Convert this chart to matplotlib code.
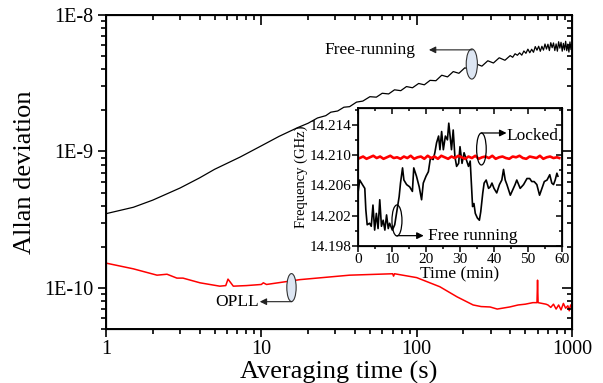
import numpy as np
import matplotlib
matplotlib.use("Agg")
import matplotlib.pyplot as plt
from matplotlib.patches import Ellipse
from matplotlib.ticker import FixedLocator, LogLocator, NullFormatter, MultipleLocator

plt.rcParams['font.family'] = ['Liberation Serif', 'DejaVu Serif']

# main plot: Allan deviation, free-running
tau_free = [1, 1.5, 2, 3, 4, 5, 7.3, 10, 13, 17, 20, 23, 26, 28, 31, 34, 37, 41, 45, 50,
            55, 60, 66, 72, 79, 86, 94, 103, 112, 122, 133, 145, 158, 172, 187, 204, 222,
            242, 263, 287, 312, 340, 370, 400, 415, 430, 445, 460, 475, 490, 505, 520, 535,
            550, 565, 580, 595, 610, 625, 640, 655, 670, 685, 700, 715, 730, 745, 760, 775,
            790, 805, 820, 835, 850, 865, 880, 895, 910, 925, 940, 955, 970, 985, 1000]
adev_free = [3.50e-10, 3.90e-10, 4.40e-10, 5.40e-10, 6.40e-10, 7.40e-10, 9.10e-10, 1.10e-9,
             1.29e-9, 1.49e-9, 1.61e-9, 1.76e-9, 1.83e-9, 1.94e-9, 1.98e-9, 2.11e-9, 2.13e-9,
             2.30e-9, 2.34e-9, 2.52e-9, 2.50e-9, 2.67e-9, 2.64e-9, 2.83e-9, 2.79e-9, 2.99e-9,
             2.93e-9, 3.15e-9, 3.08e-9, 3.32e-9, 3.30e-9, 3.62e-9, 3.52e-9, 3.85e-9, 3.74e-9,
             4.10e-9, 4.00e-9, 4.38e-9, 4.22e-9, 4.62e-9, 4.45e-9, 4.86e-9, 4.66e-9,
             5.04e-9, 4.90e-9, 5.20e-9, 5.07e-9, 5.28e-9, 5.08e-9, 5.45e-9, 5.24e-9, 5.62e-9,
             5.29e-9, 5.61e-9, 5.33e-9, 5.87e-9, 5.52e-9, 5.90e-9, 5.42e-9, 5.90e-9, 5.53e-9,
             6.13e-9, 5.63e-9, 6.11e-9, 5.49e-9, 6.27e-9, 5.76e-9, 6.24e-9, 5.49e-9, 6.14e-9,
             5.43e-9, 6.37e-9, 5.72e-9, 6.31e-9, 5.43e-9, 6.20e-9, 5.55e-9, 6.42e-9, 5.48e-9,
             6.12e-9, 5.35e-9, 6.35e-9, 5.58e-9, 6.05e-9]

# main plot: Allan deviation, OPLL locked
tau_opll = [1, 1.5, 2.13, 2.47, 2.86, 3.13, 4.03, 5.4, 5.9, 6.1, 6.6, 8, 10, 10.3, 10.8,
            17.7, 37, 70, 71, 72, 100, 141, 182, 231, 260, 297, 330, 397, 450, 500, 560,
            595, 600, 605, 680, 700, 730, 760, 790, 820, 850, 880, 910, 940, 960, 980, 1000]
adev_opll = [1.52e-10, 1.38e-10, 1.24e-10, 1.26e-10, 1.18e-10, 1.18e-10, 1.09e-10, 1.03e-10,
             1.04e-10, 1.16e-10, 1.03e-10, 1.04e-10, 1.06e-10, 1.09e-10, 1.06e-10, 1.15e-10,
             1.24e-10, 1.27e-10, 1.22e-10, 1.27e-10, 1.19e-10, 1.02e-10, 8.6e-11, 7.5e-11,
             7.3e-11, 7.25e-11, 7.0e-11, 7.25e-11, 7.5e-11, 7.6e-11, 7.8e-11, 7.8e-11,
             1.14e-10, 7.8e-11, 7.6e-11, 7.5e-11, 7.2e-11, 7.6e-11, 7.0e-11, 7.5e-11,
             6.9e-11, 7.7e-11, 7.1e-11, 7.4e-11, 6.8e-11, 7.5e-11, 7.2e-11]

# inset: frequency vs time
t_free = [0.0, 0.5, 1.3, 2.0, 2.3, 2.7, 3.4, 3.9, 4.4, 4.9, 5.4, 5.9, 6.4, 6.9, 7.4, 7.9,
          8.4, 8.9, 9.3, 10.1, 10.8, 11.5, 12.1, 12.5, 13.1, 13.5, 14.3, 15.2, 16.0, 16.4,
          17.2, 18.0, 18.7, 19.2, 20.0, 20.7, 21.3, 22.1, 22.6, 23.1, 23.7, 24.1, 24.6,
          25.1, 25.7, 26.3, 26.7, 27.0, 27.5, 28.0, 28.5, 29.0, 29.6, 30.0, 30.6, 31.2,
          32.0, 32.5, 33.0, 33.4, 33.7, 34.1, 34.5, 35.1, 35.7, 36.1, 36.7, 37.1, 37.7,
          38.4, 38.9, 39.4, 40.0, 40.8, 41.6, 42.3, 42.8, 43.3, 43.8, 44.8, 45.5, 46.2,
          46.7, 47.7, 48.7, 49.7, 50.5, 51.1, 51.8, 52.6, 53.4, 54.1, 54.8, 55.6, 56.4,
          57.0, 57.5, 58.0, 58.5, 58.8]
f_free = [14.2050, 14.2067, 14.2061, 14.2056, 14.2028, 14.2008, 14.2010, 14.2006, 14.2034,
          14.2001, 14.2023, 14.2003, 14.2041, 14.2006, 14.2014, 14.2001, 14.2021, 14.2003,
          14.2010, 14.2001, 14.2008, 14.2028, 14.2045, 14.2063, 14.2083, 14.2067, 14.2061,
          14.2058, 14.2052, 14.2083, 14.2072, 14.2058, 14.2041, 14.2063, 14.2072, 14.2078,
          14.2096, 14.2094, 14.2103, 14.2116, 14.2125, 14.2107, 14.2131, 14.2107, 14.2125,
          14.2120, 14.2142, 14.2129, 14.2107, 14.2133, 14.2098, 14.2085, 14.2089, 14.2111,
          14.2089, 14.2103, 14.2092, 14.2085, 14.2092, 14.2058, 14.2032, 14.2036, 14.2023,
          14.2017, 14.2014, 14.2025, 14.2050, 14.2063, 14.2067, 14.2056, 14.2058, 14.2063,
          14.2056, 14.2050, 14.2061, 14.2067, 14.2081, 14.2067, 14.2061, 14.2047, 14.2054,
          14.2061, 14.2067, 14.2056, 14.2061, 14.2069, 14.2069, 14.2065, 14.2065, 14.2061,
          14.2047, 14.2056, 14.2065, 14.2067, 14.2074, 14.2063, 14.2061, 14.2067, 14.2076,
          14.2072]
t_lock = [0.5, 1.5, 2.5, 3.5, 4.5, 5.5, 6.5, 7.5, 8.5, 9.5, 10.5, 11.5, 12.5, 13.5, 14.5,
          15.5, 16.5, 17.5, 18.5, 19.5, 20.5, 21.5, 22.5, 23.5, 24.5, 25.5, 26.5, 27.5, 28.5,
          29.5, 30.5, 31.5, 32.5, 33.5, 34.5, 35.5, 36.5, 37.5, 38.5, 39.5, 40.5, 41.5, 42.5,
          43.5, 44.5, 45.5, 46.5, 47.5, 48.5, 49.5, 50.5, 51.5, 52.5, 53.5, 54.5, 55.5, 56.5,
          57.5, 58.5, 59.2]
f_lock = [14.2096, 14.2098, 14.2095, 14.2097, 14.2099, 14.2096, 14.2098, 14.2095, 14.2097,
          14.2099, 14.2096, 14.2097, 14.2095, 14.2098, 14.2096, 14.2099, 14.2095, 14.2097,
          14.2098, 14.2095, 14.2099, 14.2096, 14.2098, 14.2095, 14.2099, 14.2097, 14.2095,
          14.2098, 14.2096, 14.2099, 14.2097, 14.2095, 14.2098, 14.2096, 14.2099, 14.2095,
          14.2097, 14.2098, 14.2096, 14.2099, 14.2095, 14.2097, 14.2098, 14.2096, 14.2095,
          14.2098, 14.2097, 14.2099, 14.2096, 14.2095, 14.2098, 14.2097, 14.2096, 14.2099,
          14.2095, 14.2097, 14.2098, 14.2096, 14.2097, 14.2096]


def mirror(a, logscale, xmaj, xmin, ymaj, ymin, tl_maj, tl_min, w):
    # Origin style: outer ticks on left/bottom, inner ticks on top/right
    r = a.twinx()
    t = a.twiny()
    if logscale:
        r.set_yscale("log")
        t.set_xscale("log")
    r.set_ylim(a.get_ylim())
    t.set_xlim(a.get_xlim())
    r.yaxis.set_major_locator(FixedLocator(ymaj))
    r.yaxis.set_minor_locator(ymin)
    t.xaxis.set_major_locator(FixedLocator(xmaj))
    t.xaxis.set_minor_locator(xmin)
    r.tick_params(which="both", direction="in", labelright=False, width=w)
    t.tick_params(which="both", direction="in", labeltop=False, width=w)
    for b in (r, t):
        b.tick_params(which="major", length=tl_maj)
        b.tick_params(which="minor", length=tl_min)
        b.yaxis.set_minor_formatter(NullFormatter())
        b.xaxis.set_minor_formatter(NullFormatter())


fig = plt.figure(figsize=(6.03, 3.83), dpi=100)
ax = fig.add_axes([0.1758, 0.141, 0.7728, 0.8198])

ax.loglog(tau_free, adev_free, color="black", lw=0.9)
ax.loglog(tau_opll, adev_opll, color="red", lw=1.1)
ax.set_xlim(1, 1000)
ax.set_ylim(5e-11, 1e-8)

ax.xaxis.set_major_locator(FixedLocator([1, 10, 100, 1000]))
ax.set_xticklabels(["1", "10", "100", "1000"])
ax.yaxis.set_major_locator(FixedLocator([1e-10, 1e-9, 1e-8]))
ax.set_yticklabels(["1E-10", "1E-9", "1E-8"])
ax.xaxis.set_minor_locator(LogLocator(base=10, subs=np.arange(2, 10)))
ax.yaxis.set_minor_locator(LogLocator(base=10, subs=np.arange(2, 10)))
ax.xaxis.set_minor_formatter(NullFormatter())
ax.yaxis.set_minor_formatter(NullFormatter())
ax.tick_params(which="both", direction="out", labelsize=14.5, width=1.2)
ax.tick_params(which="major", length=6)
ax.tick_params(which="minor", length=3.5)
ax.tick_params(axis="x", pad=2)
ax.tick_params(axis="y", pad=3)
for s in ax.spines.values():
    s.set_linewidth(1.4)
ax.set_xlabel("Averaging time (s)", fontsize=19, labelpad=1)
ax.set_ylabel("Allan deviation", fontsize=19, labelpad=6)
mirror(ax, True, [1, 10, 100, 1000], LogLocator(base=10, subs=np.arange(2, 10)),
       [1e-10, 1e-9, 1e-8], LogLocator(base=10, subs=np.arange(2, 10)), 7, 3.5, 1.2)

# annotations on main plot
ax.add_patch(Ellipse((0.785, 0.844), 0.024, 0.096, transform=ax.transAxes,
                     facecolor="#dde6f3", edgecolor="#333333", lw=0.8, zorder=5))
ax.annotate("", xy=(0.693, 0.889), xytext=(0.786, 0.889), xycoords="axes fraction",
            arrowprops=dict(arrowstyle="-|>", color="#222222", lw=0.8,
                            mutation_scale=10, shrinkA=0, shrinkB=0), zorder=5)
ax.text(0.665, 0.889, "Free-running", transform=ax.transAxes, ha="right", va="center",
        fontsize=12.5)

ax.add_patch(Ellipse((0.398, 0.132), 0.020, 0.089, transform=ax.transAxes,
                     facecolor="#dde6f3", edgecolor="#333333", lw=0.8, zorder=5))
ax.annotate("", xy=(0.330, 0.087), xytext=(0.399, 0.087), xycoords="axes fraction",
            arrowprops=dict(arrowstyle="-|>", color="#222222", lw=0.8,
                            mutation_scale=10, shrinkA=0, shrinkB=0), zorder=5)
ax.text(0.328, 0.087, "OPLL", transform=ax.transAxes, ha="right", va="center",
        fontsize=12.5)

# inset
ins = fig.add_axes([0.5937, 0.3577, 0.3383, 0.3603])
ins.plot(t_free, f_free, color="black", lw=1.2)
ins.plot(t_lock, f_lock, color="red", lw=1.9)
ins.set_xlim(0, 60)
ins.set_ylim(14.198, 14.2162)
ins.xaxis.set_major_locator(MultipleLocator(10))
ins.xaxis.set_minor_locator(MultipleLocator(5))
ins.yaxis.set_major_locator(FixedLocator([14.198, 14.202, 14.206, 14.210, 14.214]))
ins.yaxis.set_minor_locator(MultipleLocator(0.002))
ins.set_yticklabels(["14.198", "14.202", "14.206", "14.210", "14.214"])
ins.tick_params(which="both", direction="out", labelsize=11, width=1.1)
ins.tick_params(which="major", length=4, pad=1)
ins.tick_params(which="minor", length=2.5)
for s in ins.spines.values():
    s.set_linewidth(1.3)
ins.set_xlabel("Time (min)", fontsize=12.5, labelpad=0)
ins.set_ylabel("Frequency (GHz)", fontsize=10.5, labelpad=1)
mirror(ins, False, [0, 10, 20, 30, 40, 50, 60], MultipleLocator(5),
       [14.198, 14.202, 14.206, 14.210, 14.214], MultipleLocator(0.002), 4, 2.5, 1.1)

ins.add_patch(Ellipse((0.605, 0.703), 0.047, 0.232, transform=ins.transAxes,
                      facecolor="none", edgecolor="black", lw=0.9, zorder=5))
ins.annotate("", xy=(0.728, 0.819), xytext=(0.605, 0.819), xycoords="axes fraction",
             arrowprops=dict(arrowstyle="-|>", color="black", lw=0.9,
                             mutation_scale=10, shrinkA=0, shrinkB=0), zorder=5)
ins.text(0.73, 0.80, "Locked", transform=ins.transAxes, ha="left", va="center",
         fontsize=12.5)

ins.add_patch(Ellipse((0.191, 0.185), 0.049, 0.225, transform=ins.transAxes,
                      facecolor="none", edgecolor="black", lw=0.9, zorder=5))
ins.annotate("", xy=(0.322, 0.075), xytext=(0.191, 0.075), xycoords="axes fraction",
             arrowprops=dict(arrowstyle="-|>", color="black", lw=0.9,
                             mutation_scale=10, shrinkA=0, shrinkB=0), zorder=5)
ins.text(0.343, 0.075, "Free running", transform=ins.transAxes, ha="left", va="center",
         fontsize=12.5)

fig.savefig("out.png", dpi=100)
